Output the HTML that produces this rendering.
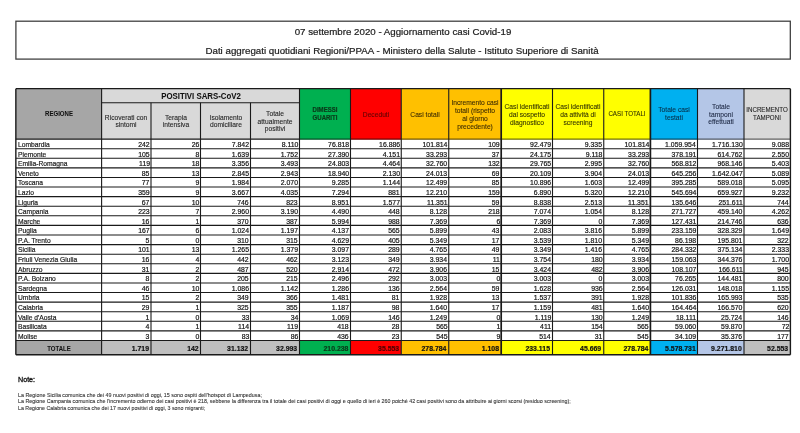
<!DOCTYPE html>
<html><head><meta charset="utf-8"><style>
html,body{margin:0;padding:0;background:#fff;width:800px;height:433px;overflow:hidden;position:relative}
body{font-family:"Liberation Sans",sans-serif;color:#000}
.t{position:absolute;white-space:nowrap;-webkit-text-stroke:0.2px currentColor}
#tx{position:absolute;left:0;top:0;width:800px;height:433px;will-change:transform}
svg{position:absolute;left:0;top:0}
#pg{position:absolute;left:0;top:0;width:800px;height:433px}
</style></head><body><div id="pg">
<svg width="800" height="433" viewBox="0 0 800 433"><rect x="15.85" y="88.70" width="85.75" height="50.40" fill="#a6a6a6"/><rect x="101.60" y="88.70" width="197.90" height="50.40" fill="#d9d9d9"/><rect x="299.50" y="88.70" width="51.00" height="50.40" fill="#00b050"/><rect x="350.50" y="88.70" width="50.75" height="50.40" fill="#ff0000"/><rect x="401.25" y="88.70" width="47.50" height="50.40" fill="#ffc000"/><rect x="448.75" y="88.70" width="52.45" height="50.40" fill="#ffc000"/><rect x="501.20" y="88.70" width="51.30" height="50.40" fill="#ffff00"/><rect x="552.50" y="88.70" width="51.25" height="50.40" fill="#ffff00"/><rect x="603.75" y="88.70" width="46.65" height="50.40" fill="#ffff00"/><rect x="650.40" y="88.70" width="47.10" height="50.40" fill="#00b0f0"/><rect x="697.50" y="88.70" width="46.50" height="50.40" fill="#b4c6e7"/><rect x="744.00" y="88.70" width="46.40" height="50.40" fill="#d9d9d9"/><rect x="15.85" y="340.50" width="85.75" height="14.20" fill="#a6a6a6"/><rect x="101.60" y="340.50" width="49.40" height="14.20" fill="#bfbfbf"/><rect x="151.00" y="340.50" width="49.50" height="14.20" fill="#bfbfbf"/><rect x="200.50" y="340.50" width="50.00" height="14.20" fill="#bfbfbf"/><rect x="250.50" y="340.50" width="49.00" height="14.20" fill="#bfbfbf"/><rect x="299.50" y="340.50" width="51.00" height="14.20" fill="#00b050"/><rect x="350.50" y="340.50" width="50.75" height="14.20" fill="#ff0000"/><rect x="401.25" y="340.50" width="47.50" height="14.20" fill="#ffc000"/><rect x="448.75" y="340.50" width="52.45" height="14.20" fill="#ffc000"/><rect x="501.20" y="340.50" width="51.30" height="14.20" fill="#ffff00"/><rect x="552.50" y="340.50" width="51.25" height="14.20" fill="#ffff00"/><rect x="603.75" y="340.50" width="46.65" height="14.20" fill="#ffff00"/><rect x="650.40" y="340.50" width="47.10" height="14.20" fill="#00b0f0"/><rect x="697.50" y="340.50" width="46.50" height="14.20" fill="#b4c6e7"/><rect x="744.00" y="340.50" width="46.40" height="14.20" fill="#bfbfbf"/><rect x="15.9" y="21.2" width="774.4" height="37.9" fill="none" stroke="#3a3a3a" stroke-width="1.25"/><line x1="15.85" y1="88.70" x2="790.40" y2="88.70" stroke="#1a1a1a" stroke-width="1.3"/><line x1="101.60" y1="102.70" x2="299.50" y2="102.70" stroke="#1a1a1a" stroke-width="1.1"/><line x1="15.85" y1="139.10" x2="299.50" y2="139.10" stroke="#1a1a1a" stroke-width="1.1"/><line x1="299.50" y1="139.10" x2="350.50" y2="139.10" stroke="#004f24" stroke-width="1.3"/><line x1="350.50" y1="139.10" x2="401.25" y2="139.10" stroke="#720000" stroke-width="1.3"/><line x1="401.25" y1="139.10" x2="448.75" y2="139.10" stroke="#725600" stroke-width="1.3"/><line x1="448.75" y1="139.10" x2="501.20" y2="139.10" stroke="#725600" stroke-width="1.3"/><line x1="501.20" y1="139.10" x2="552.50" y2="139.10" stroke="#727200" stroke-width="1.3"/><line x1="552.50" y1="139.10" x2="603.75" y2="139.10" stroke="#727200" stroke-width="1.3"/><line x1="603.75" y1="139.10" x2="650.40" y2="139.10" stroke="#727200" stroke-width="1.3"/><line x1="650.40" y1="139.10" x2="697.50" y2="139.10" stroke="#004f6c" stroke-width="1.3"/><line x1="697.50" y1="139.10" x2="744.00" y2="139.10" stroke="#515967" stroke-width="1.3"/><line x1="744.00" y1="139.10" x2="790.40" y2="139.10" stroke="#616161" stroke-width="1.3"/><line x1="15.85" y1="148.69" x2="790.40" y2="148.69" stroke="#1a1a1a" stroke-width="1.1"/><line x1="15.85" y1="158.28" x2="790.40" y2="158.28" stroke="#1a1a1a" stroke-width="1.1"/><line x1="15.85" y1="167.87" x2="790.40" y2="167.87" stroke="#1a1a1a" stroke-width="1.1"/><line x1="15.85" y1="177.46" x2="790.40" y2="177.46" stroke="#1a1a1a" stroke-width="1.1"/><line x1="15.85" y1="187.05" x2="790.40" y2="187.05" stroke="#1a1a1a" stroke-width="1.1"/><line x1="15.85" y1="196.64" x2="790.40" y2="196.64" stroke="#1a1a1a" stroke-width="1.1"/><line x1="15.85" y1="206.23" x2="790.40" y2="206.23" stroke="#1a1a1a" stroke-width="1.1"/><line x1="15.85" y1="215.82" x2="790.40" y2="215.82" stroke="#1a1a1a" stroke-width="1.1"/><line x1="15.85" y1="225.41" x2="790.40" y2="225.41" stroke="#1a1a1a" stroke-width="1.1"/><line x1="15.85" y1="235.00" x2="790.40" y2="235.00" stroke="#1a1a1a" stroke-width="1.1"/><line x1="15.85" y1="244.60" x2="790.40" y2="244.60" stroke="#1a1a1a" stroke-width="1.1"/><line x1="15.85" y1="254.19" x2="790.40" y2="254.19" stroke="#1a1a1a" stroke-width="1.1"/><line x1="15.85" y1="263.78" x2="790.40" y2="263.78" stroke="#1a1a1a" stroke-width="1.1"/><line x1="15.85" y1="273.37" x2="790.40" y2="273.37" stroke="#1a1a1a" stroke-width="1.1"/><line x1="15.85" y1="282.96" x2="790.40" y2="282.96" stroke="#1a1a1a" stroke-width="1.1"/><line x1="15.85" y1="292.55" x2="790.40" y2="292.55" stroke="#1a1a1a" stroke-width="1.1"/><line x1="15.85" y1="302.14" x2="790.40" y2="302.14" stroke="#1a1a1a" stroke-width="1.1"/><line x1="15.85" y1="311.73" x2="790.40" y2="311.73" stroke="#1a1a1a" stroke-width="1.1"/><line x1="15.85" y1="321.32" x2="790.40" y2="321.32" stroke="#1a1a1a" stroke-width="1.1"/><line x1="15.85" y1="330.91" x2="790.40" y2="330.91" stroke="#1a1a1a" stroke-width="1.1"/><line x1="15.85" y1="340.50" x2="790.40" y2="340.50" stroke="#1a1a1a" stroke-width="1.1"/><line x1="15.85" y1="354.70" x2="790.40" y2="354.70" stroke="#1a1a1a" stroke-width="1.4"/><line x1="15.85" y1="88.70" x2="15.85" y2="354.70" stroke="#1a1a1a" stroke-width="1.4"/><line x1="101.60" y1="88.70" x2="101.60" y2="354.70" stroke="#1a1a1a" stroke-width="1.1"/><line x1="151.00" y1="102.70" x2="151.00" y2="354.70" stroke="#1a1a1a" stroke-width="1.1"/><line x1="200.50" y1="102.70" x2="200.50" y2="354.70" stroke="#1a1a1a" stroke-width="1.1"/><line x1="250.50" y1="102.70" x2="250.50" y2="354.70" stroke="#1a1a1a" stroke-width="1.1"/><line x1="299.50" y1="88.70" x2="299.50" y2="354.70" stroke="#1a1a1a" stroke-width="1.1"/><line x1="350.50" y1="88.70" x2="350.50" y2="354.70" stroke="#1a1a1a" stroke-width="1.1"/><line x1="401.25" y1="88.70" x2="401.25" y2="354.70" stroke="#1a1a1a" stroke-width="1.1"/><line x1="448.75" y1="88.70" x2="448.75" y2="354.70" stroke="#1a1a1a" stroke-width="1.1"/><line x1="501.20" y1="88.70" x2="501.20" y2="354.70" stroke="#1a1a1a" stroke-width="1.7"/><line x1="552.50" y1="88.70" x2="552.50" y2="354.70" stroke="#1a1a1a" stroke-width="1.1"/><line x1="603.75" y1="88.70" x2="603.75" y2="354.70" stroke="#1a1a1a" stroke-width="1.1"/><line x1="650.40" y1="88.70" x2="650.40" y2="354.70" stroke="#1a1a1a" stroke-width="1.7"/><line x1="697.50" y1="88.70" x2="697.50" y2="354.70" stroke="#1a1a1a" stroke-width="1.1"/><line x1="744.00" y1="88.70" x2="744.00" y2="354.70" stroke="#1a1a1a" stroke-width="1.1"/><line x1="790.40" y1="88.70" x2="790.40" y2="354.70" stroke="#1a1a1a" stroke-width="1.4"/></svg>
<div id="tx"><div class="t" style="top:26.44px;font-size:9.9px;line-height:11.058px;color:#222;left:-97.50px;width:1000px;text-align:center;transform:scaleX(0.984);transform-origin:center 50%;-webkit-text-stroke:0.22px currentColor;">07 settembre 2020 - Aggiornamento casi Covid-19</div><div class="t" style="top:45.04px;font-size:9.9px;line-height:11.058px;color:#222;left:-98.00px;width:1000px;text-align:center;transform:scaleX(0.987);transform-origin:center 50%;-webkit-text-stroke:0.22px currentColor;">Dati aggregati quotidiani Regioni/PPAA - Ministero della Salute - Istituto Superiore di Sanità</div><div class="t" style="top:110.12px;font-size:6.655px;line-height:7.434px;font-weight:bold;color:#111;left:-441.27px;width:1000px;text-align:center;transform:scaleX(0.909);transform-origin:center 50%;-webkit-text-stroke:0.05px currentColor;">REGIONE</div><div class="t" style="top:90.77px;font-size:9.42px;line-height:10.522px;font-weight:bold;color:#111;left:-299.45px;width:1000px;text-align:center;transform:scaleX(0.833);transform-origin:center 50%;-webkit-text-stroke:0.05px currentColor;">POSITIVI SARS-CoV2</div><div class="t" style="top:113.59px;font-size:7.906px;line-height:8.831px;color:#222;left:-373.70px;width:1000px;text-align:center;transform:scaleX(0.847);transform-origin:center 50%;-webkit-text-stroke:0.1px currentColor;">Ricoverati con</div><div class="t" style="top:121.34px;font-size:7.906px;line-height:8.831px;color:#222;left:-373.70px;width:1000px;text-align:center;transform:scaleX(0.847);transform-origin:center 50%;-webkit-text-stroke:0.1px currentColor;">sintomi</div><div class="t" style="top:113.59px;font-size:7.906px;line-height:8.831px;color:#222;left:-324.25px;width:1000px;text-align:center;transform:scaleX(0.847);transform-origin:center 50%;-webkit-text-stroke:0.1px currentColor;">Terapia</div><div class="t" style="top:121.34px;font-size:7.906px;line-height:8.831px;color:#222;left:-324.25px;width:1000px;text-align:center;transform:scaleX(0.847);transform-origin:center 50%;-webkit-text-stroke:0.1px currentColor;">intensiva</div><div class="t" style="top:113.59px;font-size:7.906px;line-height:8.831px;color:#222;left:-274.50px;width:1000px;text-align:center;transform:scaleX(0.847);transform-origin:center 50%;-webkit-text-stroke:0.1px currentColor;">Isolamento</div><div class="t" style="top:121.34px;font-size:7.906px;line-height:8.831px;color:#222;left:-274.50px;width:1000px;text-align:center;transform:scaleX(0.847);transform-origin:center 50%;-webkit-text-stroke:0.1px currentColor;">domiciliare</div><div class="t" style="top:109.66px;font-size:7.906px;line-height:8.831px;color:#222;left:-225.00px;width:1000px;text-align:center;transform:scaleX(0.847);transform-origin:center 50%;-webkit-text-stroke:0.1px currentColor;">Totale</div><div class="t" style="top:117.56px;font-size:7.906px;line-height:8.831px;color:#222;left:-225.00px;width:1000px;text-align:center;transform:scaleX(0.847);transform-origin:center 50%;-webkit-text-stroke:0.1px currentColor;">attualmente</div><div class="t" style="top:125.46px;font-size:7.906px;line-height:8.831px;color:#222;left:-225.00px;width:1000px;text-align:center;transform:scaleX(0.847);transform-origin:center 50%;-webkit-text-stroke:0.1px currentColor;">positivi</div><div class="t" style="top:106.47px;font-size:6.655px;line-height:7.434px;font-weight:bold;color:#0a3a1a;left:-175.00px;width:1000px;text-align:center;transform:scaleX(0.909);transform-origin:center 50%;-webkit-text-stroke:0.2px currentColor;">DIMESSI</div><div class="t" style="top:114.27px;font-size:6.655px;line-height:7.434px;font-weight:bold;color:#0a3a1a;left:-175.00px;width:1000px;text-align:center;transform:scaleX(0.909);transform-origin:center 50%;-webkit-text-stroke:0.2px currentColor;">GUARITI</div><div class="t" style="top:110.78px;font-size:7.6935px;line-height:8.594px;color:#660000;left:-124.12px;width:1000px;text-align:center;transform:scaleX(0.870);transform-origin:center 50%;-webkit-text-stroke:0.15px currentColor;">Deceduti</div><div class="t" style="top:110.56px;font-size:7.906px;line-height:8.831px;color:#3a2a00;left:-75.00px;width:1000px;text-align:center;transform:scaleX(0.847);transform-origin:center 50%;-webkit-text-stroke:0.1px currentColor;">Casi totali</div><div class="t" style="top:99.26px;font-size:7.906px;line-height:8.831px;color:#3a2a00;left:-25.02px;width:1000px;text-align:center;transform:scaleX(0.847);transform-origin:center 50%;-webkit-text-stroke:0.1px currentColor;">Incremento casi</div><div class="t" style="top:107.06px;font-size:7.906px;line-height:8.831px;color:#3a2a00;left:-25.02px;width:1000px;text-align:center;transform:scaleX(0.847);transform-origin:center 50%;-webkit-text-stroke:0.1px currentColor;">totali (rispetto</div><div class="t" style="top:114.86px;font-size:7.906px;line-height:8.831px;color:#3a2a00;left:-25.02px;width:1000px;text-align:center;transform:scaleX(0.847);transform-origin:center 50%;-webkit-text-stroke:0.1px currentColor;">al giorno</div><div class="t" style="top:122.66px;font-size:7.906px;line-height:8.831px;color:#3a2a00;left:-25.02px;width:1000px;text-align:center;transform:scaleX(0.847);transform-origin:center 50%;-webkit-text-stroke:0.1px currentColor;">precedente)</div><div class="t" style="top:103.16px;font-size:7.906px;line-height:8.831px;color:#333300;left:26.85px;width:1000px;text-align:center;transform:scaleX(0.847);transform-origin:center 50%;-webkit-text-stroke:0.1px currentColor;">Casi identificati</div><div class="t" style="top:110.86px;font-size:7.906px;line-height:8.831px;color:#333300;left:26.85px;width:1000px;text-align:center;transform:scaleX(0.847);transform-origin:center 50%;-webkit-text-stroke:0.1px currentColor;">dal sospetto</div><div class="t" style="top:118.56px;font-size:7.906px;line-height:8.831px;color:#333300;left:26.85px;width:1000px;text-align:center;transform:scaleX(0.847);transform-origin:center 50%;-webkit-text-stroke:0.1px currentColor;">diagnostico</div><div class="t" style="top:103.16px;font-size:7.906px;line-height:8.831px;color:#333300;left:78.12px;width:1000px;text-align:center;transform:scaleX(0.847);transform-origin:center 50%;-webkit-text-stroke:0.1px currentColor;">Casi identificati</div><div class="t" style="top:110.86px;font-size:7.906px;line-height:8.831px;color:#333300;left:78.12px;width:1000px;text-align:center;transform:scaleX(0.847);transform-origin:center 50%;-webkit-text-stroke:0.1px currentColor;">da attività di</div><div class="t" style="top:118.56px;font-size:7.906px;line-height:8.831px;color:#333300;left:78.12px;width:1000px;text-align:center;transform:scaleX(0.847);transform-origin:center 50%;-webkit-text-stroke:0.1px currentColor;">screening</div><div class="t" style="top:110.02px;font-size:6.944000000000001px;line-height:7.756px;color:#333300;left:127.08px;width:1000px;text-align:center;transform:scaleX(0.893);transform-origin:center 50%;-webkit-text-stroke:0.1px currentColor;">CASI TOTALI</div><div class="t" style="top:106.46px;font-size:7.906px;line-height:8.831px;color:#06304a;left:173.95px;width:1000px;text-align:center;transform:scaleX(0.847);transform-origin:center 50%;-webkit-text-stroke:0.1px currentColor;">Totale casi</div><div class="t" style="top:114.26px;font-size:7.906px;line-height:8.831px;color:#06304a;left:173.95px;width:1000px;text-align:center;transform:scaleX(0.847);transform-origin:center 50%;-webkit-text-stroke:0.1px currentColor;">testati</div><div class="t" style="top:103.06px;font-size:7.906px;line-height:8.831px;color:#1a2540;left:220.75px;width:1000px;text-align:center;transform:scaleX(0.847);transform-origin:center 50%;-webkit-text-stroke:0.1px currentColor;">Totale</div><div class="t" style="top:110.56px;font-size:7.906px;line-height:8.831px;color:#1a2540;left:220.75px;width:1000px;text-align:center;transform:scaleX(0.847);transform-origin:center 50%;-webkit-text-stroke:0.1px currentColor;">tamponi</div><div class="t" style="top:118.06px;font-size:7.906px;line-height:8.831px;color:#1a2540;left:220.75px;width:1000px;text-align:center;transform:scaleX(0.847);transform-origin:center 50%;-webkit-text-stroke:0.1px currentColor;">effettuati</div><div class="t" style="top:106.12px;font-size:6.944000000000001px;line-height:7.756px;color:#222;left:267.20px;width:1000px;text-align:center;transform:scaleX(0.893);transform-origin:center 50%;-webkit-text-stroke:0.1px currentColor;">INCREMENTO</div><div class="t" style="top:113.92px;font-size:6.944000000000001px;line-height:7.756px;color:#222;left:267.20px;width:1000px;text-align:center;transform:scaleX(0.893);transform-origin:center 50%;-webkit-text-stroke:0.1px currentColor;">TAMPONI</div><div class="t" style="top:140.84px;font-size:7.771999999999999px;line-height:8.681px;color:#1a1a1a;left:18.15px;transform:scaleX(0.862);transform-origin:left 50%;">Lombardia</div><div class="t" style="top:141.00px;font-size:7.590000000000001px;line-height:8.478px;color:#111;right:650.40px;transform:scaleX(0.909);transform-origin:right 50%;">242</div><div class="t" style="top:141.00px;font-size:7.590000000000001px;line-height:8.478px;color:#111;right:600.90px;transform:scaleX(0.909);transform-origin:right 50%;">26</div><div class="t" style="top:141.00px;font-size:7.590000000000001px;line-height:8.478px;color:#111;right:550.90px;transform:scaleX(0.909);transform-origin:right 50%;">7.842</div><div class="t" style="top:141.00px;font-size:7.590000000000001px;line-height:8.478px;color:#111;right:501.90px;transform:scaleX(0.909);transform-origin:right 50%;">8.110</div><div class="t" style="top:141.00px;font-size:7.590000000000001px;line-height:8.478px;color:#111;right:450.90px;transform:scaleX(0.909);transform-origin:right 50%;">76.818</div><div class="t" style="top:141.00px;font-size:7.590000000000001px;line-height:8.478px;color:#111;right:400.15px;transform:scaleX(0.909);transform-origin:right 50%;">16.886</div><div class="t" style="top:141.00px;font-size:7.590000000000001px;line-height:8.478px;color:#111;right:352.65px;transform:scaleX(0.909);transform-origin:right 50%;">101.814</div><div class="t" style="top:141.00px;font-size:7.590000000000001px;line-height:8.478px;color:#111;right:300.20px;transform:scaleX(0.909);transform-origin:right 50%;">109</div><div class="t" style="top:141.00px;font-size:7.590000000000001px;line-height:8.478px;color:#111;right:248.90px;transform:scaleX(0.909);transform-origin:right 50%;">92.479</div><div class="t" style="top:141.00px;font-size:7.590000000000001px;line-height:8.478px;color:#111;right:197.65px;transform:scaleX(0.909);transform-origin:right 50%;">9.335</div><div class="t" style="top:141.00px;font-size:7.590000000000001px;line-height:8.478px;color:#111;right:151.00px;transform:scaleX(0.909);transform-origin:right 50%;">101.814</div><div class="t" style="top:141.00px;font-size:7.590000000000001px;line-height:8.478px;color:#111;right:103.90px;transform:scaleX(0.909);transform-origin:right 50%;">1.059.954</div><div class="t" style="top:141.00px;font-size:7.590000000000001px;line-height:8.478px;color:#111;right:57.40px;transform:scaleX(0.909);transform-origin:right 50%;">1.716.130</div><div class="t" style="top:141.00px;font-size:7.590000000000001px;line-height:8.478px;color:#111;right:11.00px;transform:scaleX(0.909);transform-origin:right 50%;">9.088</div><div class="t" style="top:150.84px;font-size:7.771999999999999px;line-height:8.681px;color:#1a1a1a;left:18.15px;transform:scaleX(0.862);transform-origin:left 50%;">Piemonte</div><div class="t" style="top:151.00px;font-size:7.590000000000001px;line-height:8.478px;color:#111;right:650.40px;transform:scaleX(0.909);transform-origin:right 50%;">105</div><div class="t" style="top:151.00px;font-size:7.590000000000001px;line-height:8.478px;color:#111;right:600.90px;transform:scaleX(0.909);transform-origin:right 50%;">8</div><div class="t" style="top:151.00px;font-size:7.590000000000001px;line-height:8.478px;color:#111;right:550.90px;transform:scaleX(0.909);transform-origin:right 50%;">1.639</div><div class="t" style="top:151.00px;font-size:7.590000000000001px;line-height:8.478px;color:#111;right:501.90px;transform:scaleX(0.909);transform-origin:right 50%;">1.752</div><div class="t" style="top:151.00px;font-size:7.590000000000001px;line-height:8.478px;color:#111;right:450.90px;transform:scaleX(0.909);transform-origin:right 50%;">27.390</div><div class="t" style="top:151.00px;font-size:7.590000000000001px;line-height:8.478px;color:#111;right:400.15px;transform:scaleX(0.909);transform-origin:right 50%;">4.151</div><div class="t" style="top:151.00px;font-size:7.590000000000001px;line-height:8.478px;color:#111;right:352.65px;transform:scaleX(0.909);transform-origin:right 50%;">33.293</div><div class="t" style="top:151.00px;font-size:7.590000000000001px;line-height:8.478px;color:#111;right:300.20px;transform:scaleX(0.909);transform-origin:right 50%;">37</div><div class="t" style="top:151.00px;font-size:7.590000000000001px;line-height:8.478px;color:#111;right:248.90px;transform:scaleX(0.909);transform-origin:right 50%;">24.175</div><div class="t" style="top:151.00px;font-size:7.590000000000001px;line-height:8.478px;color:#111;right:197.65px;transform:scaleX(0.909);transform-origin:right 50%;">9.118</div><div class="t" style="top:151.00px;font-size:7.590000000000001px;line-height:8.478px;color:#111;right:151.00px;transform:scaleX(0.909);transform-origin:right 50%;">33.293</div><div class="t" style="top:151.00px;font-size:7.590000000000001px;line-height:8.478px;color:#111;right:103.90px;transform:scaleX(0.909);transform-origin:right 50%;">378.191</div><div class="t" style="top:151.00px;font-size:7.590000000000001px;line-height:8.478px;color:#111;right:57.40px;transform:scaleX(0.909);transform-origin:right 50%;">614.762</div><div class="t" style="top:151.00px;font-size:7.590000000000001px;line-height:8.478px;color:#111;right:11.00px;transform:scaleX(0.909);transform-origin:right 50%;">2.550</div><div class="t" style="top:159.84px;font-size:7.771999999999999px;line-height:8.681px;color:#1a1a1a;left:18.15px;transform:scaleX(0.862);transform-origin:left 50%;">Emilia-Romagna</div><div class="t" style="top:160.00px;font-size:7.590000000000001px;line-height:8.478px;color:#111;right:650.40px;transform:scaleX(0.909);transform-origin:right 50%;">119</div><div class="t" style="top:160.00px;font-size:7.590000000000001px;line-height:8.478px;color:#111;right:600.90px;transform:scaleX(0.909);transform-origin:right 50%;">18</div><div class="t" style="top:160.00px;font-size:7.590000000000001px;line-height:8.478px;color:#111;right:550.90px;transform:scaleX(0.909);transform-origin:right 50%;">3.356</div><div class="t" style="top:160.00px;font-size:7.590000000000001px;line-height:8.478px;color:#111;right:501.90px;transform:scaleX(0.909);transform-origin:right 50%;">3.493</div><div class="t" style="top:160.00px;font-size:7.590000000000001px;line-height:8.478px;color:#111;right:450.90px;transform:scaleX(0.909);transform-origin:right 50%;">24.803</div><div class="t" style="top:160.00px;font-size:7.590000000000001px;line-height:8.478px;color:#111;right:400.15px;transform:scaleX(0.909);transform-origin:right 50%;">4.464</div><div class="t" style="top:160.00px;font-size:7.590000000000001px;line-height:8.478px;color:#111;right:352.65px;transform:scaleX(0.909);transform-origin:right 50%;">32.760</div><div class="t" style="top:160.00px;font-size:7.590000000000001px;line-height:8.478px;color:#111;right:300.20px;transform:scaleX(0.909);transform-origin:right 50%;">132</div><div class="t" style="top:160.00px;font-size:7.590000000000001px;line-height:8.478px;color:#111;right:248.90px;transform:scaleX(0.909);transform-origin:right 50%;">29.765</div><div class="t" style="top:160.00px;font-size:7.590000000000001px;line-height:8.478px;color:#111;right:197.65px;transform:scaleX(0.909);transform-origin:right 50%;">2.995</div><div class="t" style="top:160.00px;font-size:7.590000000000001px;line-height:8.478px;color:#111;right:151.00px;transform:scaleX(0.909);transform-origin:right 50%;">32.760</div><div class="t" style="top:160.00px;font-size:7.590000000000001px;line-height:8.478px;color:#111;right:103.90px;transform:scaleX(0.909);transform-origin:right 50%;">568.812</div><div class="t" style="top:160.00px;font-size:7.590000000000001px;line-height:8.478px;color:#111;right:57.40px;transform:scaleX(0.909);transform-origin:right 50%;">968.146</div><div class="t" style="top:160.00px;font-size:7.590000000000001px;line-height:8.478px;color:#111;right:11.00px;transform:scaleX(0.909);transform-origin:right 50%;">5.403</div><div class="t" style="top:169.84px;font-size:7.771999999999999px;line-height:8.681px;color:#1a1a1a;left:18.15px;transform:scaleX(0.862);transform-origin:left 50%;">Veneto</div><div class="t" style="top:170.00px;font-size:7.590000000000001px;line-height:8.478px;color:#111;right:650.40px;transform:scaleX(0.909);transform-origin:right 50%;">85</div><div class="t" style="top:170.00px;font-size:7.590000000000001px;line-height:8.478px;color:#111;right:600.90px;transform:scaleX(0.909);transform-origin:right 50%;">13</div><div class="t" style="top:170.00px;font-size:7.590000000000001px;line-height:8.478px;color:#111;right:550.90px;transform:scaleX(0.909);transform-origin:right 50%;">2.845</div><div class="t" style="top:170.00px;font-size:7.590000000000001px;line-height:8.478px;color:#111;right:501.90px;transform:scaleX(0.909);transform-origin:right 50%;">2.943</div><div class="t" style="top:170.00px;font-size:7.590000000000001px;line-height:8.478px;color:#111;right:450.90px;transform:scaleX(0.909);transform-origin:right 50%;">18.940</div><div class="t" style="top:170.00px;font-size:7.590000000000001px;line-height:8.478px;color:#111;right:400.15px;transform:scaleX(0.909);transform-origin:right 50%;">2.130</div><div class="t" style="top:170.00px;font-size:7.590000000000001px;line-height:8.478px;color:#111;right:352.65px;transform:scaleX(0.909);transform-origin:right 50%;">24.013</div><div class="t" style="top:170.00px;font-size:7.590000000000001px;line-height:8.478px;color:#111;right:300.20px;transform:scaleX(0.909);transform-origin:right 50%;">69</div><div class="t" style="top:170.00px;font-size:7.590000000000001px;line-height:8.478px;color:#111;right:248.90px;transform:scaleX(0.909);transform-origin:right 50%;">20.109</div><div class="t" style="top:170.00px;font-size:7.590000000000001px;line-height:8.478px;color:#111;right:197.65px;transform:scaleX(0.909);transform-origin:right 50%;">3.904</div><div class="t" style="top:170.00px;font-size:7.590000000000001px;line-height:8.478px;color:#111;right:151.00px;transform:scaleX(0.909);transform-origin:right 50%;">24.013</div><div class="t" style="top:170.00px;font-size:7.590000000000001px;line-height:8.478px;color:#111;right:103.90px;transform:scaleX(0.909);transform-origin:right 50%;">645.256</div><div class="t" style="top:170.00px;font-size:7.590000000000001px;line-height:8.478px;color:#111;right:57.40px;transform:scaleX(0.909);transform-origin:right 50%;">1.642.047</div><div class="t" style="top:170.00px;font-size:7.590000000000001px;line-height:8.478px;color:#111;right:11.00px;transform:scaleX(0.909);transform-origin:right 50%;">5.089</div><div class="t" style="top:178.84px;font-size:7.771999999999999px;line-height:8.681px;color:#1a1a1a;left:18.15px;transform:scaleX(0.862);transform-origin:left 50%;">Toscana</div><div class="t" style="top:179.00px;font-size:7.590000000000001px;line-height:8.478px;color:#111;right:650.40px;transform:scaleX(0.909);transform-origin:right 50%;">77</div><div class="t" style="top:179.00px;font-size:7.590000000000001px;line-height:8.478px;color:#111;right:600.90px;transform:scaleX(0.909);transform-origin:right 50%;">9</div><div class="t" style="top:179.00px;font-size:7.590000000000001px;line-height:8.478px;color:#111;right:550.90px;transform:scaleX(0.909);transform-origin:right 50%;">1.984</div><div class="t" style="top:179.00px;font-size:7.590000000000001px;line-height:8.478px;color:#111;right:501.90px;transform:scaleX(0.909);transform-origin:right 50%;">2.070</div><div class="t" style="top:179.00px;font-size:7.590000000000001px;line-height:8.478px;color:#111;right:450.90px;transform:scaleX(0.909);transform-origin:right 50%;">9.285</div><div class="t" style="top:179.00px;font-size:7.590000000000001px;line-height:8.478px;color:#111;right:400.15px;transform:scaleX(0.909);transform-origin:right 50%;">1.144</div><div class="t" style="top:179.00px;font-size:7.590000000000001px;line-height:8.478px;color:#111;right:352.65px;transform:scaleX(0.909);transform-origin:right 50%;">12.499</div><div class="t" style="top:179.00px;font-size:7.590000000000001px;line-height:8.478px;color:#111;right:300.20px;transform:scaleX(0.909);transform-origin:right 50%;">85</div><div class="t" style="top:179.00px;font-size:7.590000000000001px;line-height:8.478px;color:#111;right:248.90px;transform:scaleX(0.909);transform-origin:right 50%;">10.896</div><div class="t" style="top:179.00px;font-size:7.590000000000001px;line-height:8.478px;color:#111;right:197.65px;transform:scaleX(0.909);transform-origin:right 50%;">1.603</div><div class="t" style="top:179.00px;font-size:7.590000000000001px;line-height:8.478px;color:#111;right:151.00px;transform:scaleX(0.909);transform-origin:right 50%;">12.499</div><div class="t" style="top:179.00px;font-size:7.590000000000001px;line-height:8.478px;color:#111;right:103.90px;transform:scaleX(0.909);transform-origin:right 50%;">395.285</div><div class="t" style="top:179.00px;font-size:7.590000000000001px;line-height:8.478px;color:#111;right:57.40px;transform:scaleX(0.909);transform-origin:right 50%;">589.018</div><div class="t" style="top:179.00px;font-size:7.590000000000001px;line-height:8.478px;color:#111;right:11.00px;transform:scaleX(0.909);transform-origin:right 50%;">5.095</div><div class="t" style="top:188.84px;font-size:7.771999999999999px;line-height:8.681px;color:#1a1a1a;left:18.15px;transform:scaleX(0.862);transform-origin:left 50%;">Lazio</div><div class="t" style="top:189.00px;font-size:7.590000000000001px;line-height:8.478px;color:#111;right:650.40px;transform:scaleX(0.909);transform-origin:right 50%;">359</div><div class="t" style="top:189.00px;font-size:7.590000000000001px;line-height:8.478px;color:#111;right:600.90px;transform:scaleX(0.909);transform-origin:right 50%;">9</div><div class="t" style="top:189.00px;font-size:7.590000000000001px;line-height:8.478px;color:#111;right:550.90px;transform:scaleX(0.909);transform-origin:right 50%;">3.667</div><div class="t" style="top:189.00px;font-size:7.590000000000001px;line-height:8.478px;color:#111;right:501.90px;transform:scaleX(0.909);transform-origin:right 50%;">4.035</div><div class="t" style="top:189.00px;font-size:7.590000000000001px;line-height:8.478px;color:#111;right:450.90px;transform:scaleX(0.909);transform-origin:right 50%;">7.294</div><div class="t" style="top:189.00px;font-size:7.590000000000001px;line-height:8.478px;color:#111;right:400.15px;transform:scaleX(0.909);transform-origin:right 50%;">881</div><div class="t" style="top:189.00px;font-size:7.590000000000001px;line-height:8.478px;color:#111;right:352.65px;transform:scaleX(0.909);transform-origin:right 50%;">12.210</div><div class="t" style="top:189.00px;font-size:7.590000000000001px;line-height:8.478px;color:#111;right:300.20px;transform:scaleX(0.909);transform-origin:right 50%;">159</div><div class="t" style="top:189.00px;font-size:7.590000000000001px;line-height:8.478px;color:#111;right:248.90px;transform:scaleX(0.909);transform-origin:right 50%;">6.890</div><div class="t" style="top:189.00px;font-size:7.590000000000001px;line-height:8.478px;color:#111;right:197.65px;transform:scaleX(0.909);transform-origin:right 50%;">5.320</div><div class="t" style="top:189.00px;font-size:7.590000000000001px;line-height:8.478px;color:#111;right:151.00px;transform:scaleX(0.909);transform-origin:right 50%;">12.210</div><div class="t" style="top:189.00px;font-size:7.590000000000001px;line-height:8.478px;color:#111;right:103.90px;transform:scaleX(0.909);transform-origin:right 50%;">545.694</div><div class="t" style="top:189.00px;font-size:7.590000000000001px;line-height:8.478px;color:#111;right:57.40px;transform:scaleX(0.909);transform-origin:right 50%;">659.927</div><div class="t" style="top:189.00px;font-size:7.590000000000001px;line-height:8.478px;color:#111;right:11.00px;transform:scaleX(0.909);transform-origin:right 50%;">9.232</div><div class="t" style="top:198.84px;font-size:7.771999999999999px;line-height:8.681px;color:#1a1a1a;left:18.15px;transform:scaleX(0.862);transform-origin:left 50%;">Liguria</div><div class="t" style="top:199.00px;font-size:7.590000000000001px;line-height:8.478px;color:#111;right:650.40px;transform:scaleX(0.909);transform-origin:right 50%;">67</div><div class="t" style="top:199.00px;font-size:7.590000000000001px;line-height:8.478px;color:#111;right:600.90px;transform:scaleX(0.909);transform-origin:right 50%;">10</div><div class="t" style="top:199.00px;font-size:7.590000000000001px;line-height:8.478px;color:#111;right:550.90px;transform:scaleX(0.909);transform-origin:right 50%;">746</div><div class="t" style="top:199.00px;font-size:7.590000000000001px;line-height:8.478px;color:#111;right:501.90px;transform:scaleX(0.909);transform-origin:right 50%;">823</div><div class="t" style="top:199.00px;font-size:7.590000000000001px;line-height:8.478px;color:#111;right:450.90px;transform:scaleX(0.909);transform-origin:right 50%;">8.951</div><div class="t" style="top:199.00px;font-size:7.590000000000001px;line-height:8.478px;color:#111;right:400.15px;transform:scaleX(0.909);transform-origin:right 50%;">1.577</div><div class="t" style="top:199.00px;font-size:7.590000000000001px;line-height:8.478px;color:#111;right:352.65px;transform:scaleX(0.909);transform-origin:right 50%;">11.351</div><div class="t" style="top:199.00px;font-size:7.590000000000001px;line-height:8.478px;color:#111;right:300.20px;transform:scaleX(0.909);transform-origin:right 50%;">59</div><div class="t" style="top:199.00px;font-size:7.590000000000001px;line-height:8.478px;color:#111;right:248.90px;transform:scaleX(0.909);transform-origin:right 50%;">8.838</div><div class="t" style="top:199.00px;font-size:7.590000000000001px;line-height:8.478px;color:#111;right:197.65px;transform:scaleX(0.909);transform-origin:right 50%;">2.513</div><div class="t" style="top:199.00px;font-size:7.590000000000001px;line-height:8.478px;color:#111;right:151.00px;transform:scaleX(0.909);transform-origin:right 50%;">11.351</div><div class="t" style="top:199.00px;font-size:7.590000000000001px;line-height:8.478px;color:#111;right:103.90px;transform:scaleX(0.909);transform-origin:right 50%;">135.646</div><div class="t" style="top:199.00px;font-size:7.590000000000001px;line-height:8.478px;color:#111;right:57.40px;transform:scaleX(0.909);transform-origin:right 50%;">251.611</div><div class="t" style="top:199.00px;font-size:7.590000000000001px;line-height:8.478px;color:#111;right:11.00px;transform:scaleX(0.909);transform-origin:right 50%;">744</div><div class="t" style="top:207.84px;font-size:7.771999999999999px;line-height:8.681px;color:#1a1a1a;left:18.15px;transform:scaleX(0.862);transform-origin:left 50%;">Campania</div><div class="t" style="top:208.00px;font-size:7.590000000000001px;line-height:8.478px;color:#111;right:650.40px;transform:scaleX(0.909);transform-origin:right 50%;">223</div><div class="t" style="top:208.00px;font-size:7.590000000000001px;line-height:8.478px;color:#111;right:600.90px;transform:scaleX(0.909);transform-origin:right 50%;">7</div><div class="t" style="top:208.00px;font-size:7.590000000000001px;line-height:8.478px;color:#111;right:550.90px;transform:scaleX(0.909);transform-origin:right 50%;">2.960</div><div class="t" style="top:208.00px;font-size:7.590000000000001px;line-height:8.478px;color:#111;right:501.90px;transform:scaleX(0.909);transform-origin:right 50%;">3.190</div><div class="t" style="top:208.00px;font-size:7.590000000000001px;line-height:8.478px;color:#111;right:450.90px;transform:scaleX(0.909);transform-origin:right 50%;">4.490</div><div class="t" style="top:208.00px;font-size:7.590000000000001px;line-height:8.478px;color:#111;right:400.15px;transform:scaleX(0.909);transform-origin:right 50%;">448</div><div class="t" style="top:208.00px;font-size:7.590000000000001px;line-height:8.478px;color:#111;right:352.65px;transform:scaleX(0.909);transform-origin:right 50%;">8.128</div><div class="t" style="top:208.00px;font-size:7.590000000000001px;line-height:8.478px;color:#111;right:300.20px;transform:scaleX(0.909);transform-origin:right 50%;">218</div><div class="t" style="top:208.00px;font-size:7.590000000000001px;line-height:8.478px;color:#111;right:248.90px;transform:scaleX(0.909);transform-origin:right 50%;">7.074</div><div class="t" style="top:208.00px;font-size:7.590000000000001px;line-height:8.478px;color:#111;right:197.65px;transform:scaleX(0.909);transform-origin:right 50%;">1.054</div><div class="t" style="top:208.00px;font-size:7.590000000000001px;line-height:8.478px;color:#111;right:151.00px;transform:scaleX(0.909);transform-origin:right 50%;">8.128</div><div class="t" style="top:208.00px;font-size:7.590000000000001px;line-height:8.478px;color:#111;right:103.90px;transform:scaleX(0.909);transform-origin:right 50%;">271.727</div><div class="t" style="top:208.00px;font-size:7.590000000000001px;line-height:8.478px;color:#111;right:57.40px;transform:scaleX(0.909);transform-origin:right 50%;">459.140</div><div class="t" style="top:208.00px;font-size:7.590000000000001px;line-height:8.478px;color:#111;right:11.00px;transform:scaleX(0.909);transform-origin:right 50%;">4.262</div><div class="t" style="top:217.84px;font-size:7.771999999999999px;line-height:8.681px;color:#1a1a1a;left:18.15px;transform:scaleX(0.862);transform-origin:left 50%;">Marche</div><div class="t" style="top:218.00px;font-size:7.590000000000001px;line-height:8.478px;color:#111;right:650.40px;transform:scaleX(0.909);transform-origin:right 50%;">16</div><div class="t" style="top:218.00px;font-size:7.590000000000001px;line-height:8.478px;color:#111;right:600.90px;transform:scaleX(0.909);transform-origin:right 50%;">1</div><div class="t" style="top:218.00px;font-size:7.590000000000001px;line-height:8.478px;color:#111;right:550.90px;transform:scaleX(0.909);transform-origin:right 50%;">370</div><div class="t" style="top:218.00px;font-size:7.590000000000001px;line-height:8.478px;color:#111;right:501.90px;transform:scaleX(0.909);transform-origin:right 50%;">387</div><div class="t" style="top:218.00px;font-size:7.590000000000001px;line-height:8.478px;color:#111;right:450.90px;transform:scaleX(0.909);transform-origin:right 50%;">5.994</div><div class="t" style="top:218.00px;font-size:7.590000000000001px;line-height:8.478px;color:#111;right:400.15px;transform:scaleX(0.909);transform-origin:right 50%;">988</div><div class="t" style="top:218.00px;font-size:7.590000000000001px;line-height:8.478px;color:#111;right:352.65px;transform:scaleX(0.909);transform-origin:right 50%;">7.369</div><div class="t" style="top:218.00px;font-size:7.590000000000001px;line-height:8.478px;color:#111;right:300.20px;transform:scaleX(0.909);transform-origin:right 50%;">6</div><div class="t" style="top:218.00px;font-size:7.590000000000001px;line-height:8.478px;color:#111;right:248.90px;transform:scaleX(0.909);transform-origin:right 50%;">7.369</div><div class="t" style="top:218.00px;font-size:7.590000000000001px;line-height:8.478px;color:#111;right:197.65px;transform:scaleX(0.909);transform-origin:right 50%;">0</div><div class="t" style="top:218.00px;font-size:7.590000000000001px;line-height:8.478px;color:#111;right:151.00px;transform:scaleX(0.909);transform-origin:right 50%;">7.369</div><div class="t" style="top:218.00px;font-size:7.590000000000001px;line-height:8.478px;color:#111;right:103.90px;transform:scaleX(0.909);transform-origin:right 50%;">127.431</div><div class="t" style="top:218.00px;font-size:7.590000000000001px;line-height:8.478px;color:#111;right:57.40px;transform:scaleX(0.909);transform-origin:right 50%;">214.746</div><div class="t" style="top:218.00px;font-size:7.590000000000001px;line-height:8.478px;color:#111;right:11.00px;transform:scaleX(0.909);transform-origin:right 50%;">636</div><div class="t" style="top:226.84px;font-size:7.771999999999999px;line-height:8.681px;color:#1a1a1a;left:18.15px;transform:scaleX(0.862);transform-origin:left 50%;">Puglia</div><div class="t" style="top:227.00px;font-size:7.590000000000001px;line-height:8.478px;color:#111;right:650.40px;transform:scaleX(0.909);transform-origin:right 50%;">167</div><div class="t" style="top:227.00px;font-size:7.590000000000001px;line-height:8.478px;color:#111;right:600.90px;transform:scaleX(0.909);transform-origin:right 50%;">6</div><div class="t" style="top:227.00px;font-size:7.590000000000001px;line-height:8.478px;color:#111;right:550.90px;transform:scaleX(0.909);transform-origin:right 50%;">1.024</div><div class="t" style="top:227.00px;font-size:7.590000000000001px;line-height:8.478px;color:#111;right:501.90px;transform:scaleX(0.909);transform-origin:right 50%;">1.197</div><div class="t" style="top:227.00px;font-size:7.590000000000001px;line-height:8.478px;color:#111;right:450.90px;transform:scaleX(0.909);transform-origin:right 50%;">4.137</div><div class="t" style="top:227.00px;font-size:7.590000000000001px;line-height:8.478px;color:#111;right:400.15px;transform:scaleX(0.909);transform-origin:right 50%;">565</div><div class="t" style="top:227.00px;font-size:7.590000000000001px;line-height:8.478px;color:#111;right:352.65px;transform:scaleX(0.909);transform-origin:right 50%;">5.899</div><div class="t" style="top:227.00px;font-size:7.590000000000001px;line-height:8.478px;color:#111;right:300.20px;transform:scaleX(0.909);transform-origin:right 50%;">43</div><div class="t" style="top:227.00px;font-size:7.590000000000001px;line-height:8.478px;color:#111;right:248.90px;transform:scaleX(0.909);transform-origin:right 50%;">2.083</div><div class="t" style="top:227.00px;font-size:7.590000000000001px;line-height:8.478px;color:#111;right:197.65px;transform:scaleX(0.909);transform-origin:right 50%;">3.816</div><div class="t" style="top:227.00px;font-size:7.590000000000001px;line-height:8.478px;color:#111;right:151.00px;transform:scaleX(0.909);transform-origin:right 50%;">5.899</div><div class="t" style="top:227.00px;font-size:7.590000000000001px;line-height:8.478px;color:#111;right:103.90px;transform:scaleX(0.909);transform-origin:right 50%;">233.159</div><div class="t" style="top:227.00px;font-size:7.590000000000001px;line-height:8.478px;color:#111;right:57.40px;transform:scaleX(0.909);transform-origin:right 50%;">328.329</div><div class="t" style="top:227.00px;font-size:7.590000000000001px;line-height:8.478px;color:#111;right:11.00px;transform:scaleX(0.909);transform-origin:right 50%;">1.649</div><div class="t" style="top:236.84px;font-size:7.771999999999999px;line-height:8.681px;color:#1a1a1a;left:18.15px;transform:scaleX(0.862);transform-origin:left 50%;">P.A. Trento</div><div class="t" style="top:237.00px;font-size:7.590000000000001px;line-height:8.478px;color:#111;right:650.40px;transform:scaleX(0.909);transform-origin:right 50%;">5</div><div class="t" style="top:237.00px;font-size:7.590000000000001px;line-height:8.478px;color:#111;right:600.90px;transform:scaleX(0.909);transform-origin:right 50%;">0</div><div class="t" style="top:237.00px;font-size:7.590000000000001px;line-height:8.478px;color:#111;right:550.90px;transform:scaleX(0.909);transform-origin:right 50%;">310</div><div class="t" style="top:237.00px;font-size:7.590000000000001px;line-height:8.478px;color:#111;right:501.90px;transform:scaleX(0.909);transform-origin:right 50%;">315</div><div class="t" style="top:237.00px;font-size:7.590000000000001px;line-height:8.478px;color:#111;right:450.90px;transform:scaleX(0.909);transform-origin:right 50%;">4.629</div><div class="t" style="top:237.00px;font-size:7.590000000000001px;line-height:8.478px;color:#111;right:400.15px;transform:scaleX(0.909);transform-origin:right 50%;">405</div><div class="t" style="top:237.00px;font-size:7.590000000000001px;line-height:8.478px;color:#111;right:352.65px;transform:scaleX(0.909);transform-origin:right 50%;">5.349</div><div class="t" style="top:237.00px;font-size:7.590000000000001px;line-height:8.478px;color:#111;right:300.20px;transform:scaleX(0.909);transform-origin:right 50%;">17</div><div class="t" style="top:237.00px;font-size:7.590000000000001px;line-height:8.478px;color:#111;right:248.90px;transform:scaleX(0.909);transform-origin:right 50%;">3.539</div><div class="t" style="top:237.00px;font-size:7.590000000000001px;line-height:8.478px;color:#111;right:197.65px;transform:scaleX(0.909);transform-origin:right 50%;">1.810</div><div class="t" style="top:237.00px;font-size:7.590000000000001px;line-height:8.478px;color:#111;right:151.00px;transform:scaleX(0.909);transform-origin:right 50%;">5.349</div><div class="t" style="top:237.00px;font-size:7.590000000000001px;line-height:8.478px;color:#111;right:103.90px;transform:scaleX(0.909);transform-origin:right 50%;">86.198</div><div class="t" style="top:237.00px;font-size:7.590000000000001px;line-height:8.478px;color:#111;right:57.40px;transform:scaleX(0.909);transform-origin:right 50%;">195.801</div><div class="t" style="top:237.00px;font-size:7.590000000000001px;line-height:8.478px;color:#111;right:11.00px;transform:scaleX(0.909);transform-origin:right 50%;">322</div><div class="t" style="top:245.84px;font-size:7.771999999999999px;line-height:8.681px;color:#1a1a1a;left:18.15px;transform:scaleX(0.862);transform-origin:left 50%;">Sicilia</div><div class="t" style="top:246.00px;font-size:7.590000000000001px;line-height:8.478px;color:#111;right:650.40px;transform:scaleX(0.909);transform-origin:right 50%;">101</div><div class="t" style="top:246.00px;font-size:7.590000000000001px;line-height:8.478px;color:#111;right:600.90px;transform:scaleX(0.909);transform-origin:right 50%;">13</div><div class="t" style="top:246.00px;font-size:7.590000000000001px;line-height:8.478px;color:#111;right:550.90px;transform:scaleX(0.909);transform-origin:right 50%;">1.265</div><div class="t" style="top:246.00px;font-size:7.590000000000001px;line-height:8.478px;color:#111;right:501.90px;transform:scaleX(0.909);transform-origin:right 50%;">1.379</div><div class="t" style="top:246.00px;font-size:7.590000000000001px;line-height:8.478px;color:#111;right:450.90px;transform:scaleX(0.909);transform-origin:right 50%;">3.097</div><div class="t" style="top:246.00px;font-size:7.590000000000001px;line-height:8.478px;color:#111;right:400.15px;transform:scaleX(0.909);transform-origin:right 50%;">289</div><div class="t" style="top:246.00px;font-size:7.590000000000001px;line-height:8.478px;color:#111;right:352.65px;transform:scaleX(0.909);transform-origin:right 50%;">4.765</div><div class="t" style="top:246.00px;font-size:7.590000000000001px;line-height:8.478px;color:#111;right:300.20px;transform:scaleX(0.909);transform-origin:right 50%;">49</div><div class="t" style="top:246.00px;font-size:7.590000000000001px;line-height:8.478px;color:#111;right:248.90px;transform:scaleX(0.909);transform-origin:right 50%;">3.349</div><div class="t" style="top:246.00px;font-size:7.590000000000001px;line-height:8.478px;color:#111;right:197.65px;transform:scaleX(0.909);transform-origin:right 50%;">1.416</div><div class="t" style="top:246.00px;font-size:7.590000000000001px;line-height:8.478px;color:#111;right:151.00px;transform:scaleX(0.909);transform-origin:right 50%;">4.765</div><div class="t" style="top:246.00px;font-size:7.590000000000001px;line-height:8.478px;color:#111;right:103.90px;transform:scaleX(0.909);transform-origin:right 50%;">284.332</div><div class="t" style="top:246.00px;font-size:7.590000000000001px;line-height:8.478px;color:#111;right:57.40px;transform:scaleX(0.909);transform-origin:right 50%;">375.134</div><div class="t" style="top:246.00px;font-size:7.590000000000001px;line-height:8.478px;color:#111;right:11.00px;transform:scaleX(0.909);transform-origin:right 50%;">2.333</div><div class="t" style="top:255.84px;font-size:7.771999999999999px;line-height:8.681px;color:#1a1a1a;left:18.15px;transform:scaleX(0.862);transform-origin:left 50%;">Friuli Venezia Giulia</div><div class="t" style="top:256.00px;font-size:7.590000000000001px;line-height:8.478px;color:#111;right:650.40px;transform:scaleX(0.909);transform-origin:right 50%;">16</div><div class="t" style="top:256.00px;font-size:7.590000000000001px;line-height:8.478px;color:#111;right:600.90px;transform:scaleX(0.909);transform-origin:right 50%;">4</div><div class="t" style="top:256.00px;font-size:7.590000000000001px;line-height:8.478px;color:#111;right:550.90px;transform:scaleX(0.909);transform-origin:right 50%;">442</div><div class="t" style="top:256.00px;font-size:7.590000000000001px;line-height:8.478px;color:#111;right:501.90px;transform:scaleX(0.909);transform-origin:right 50%;">462</div><div class="t" style="top:256.00px;font-size:7.590000000000001px;line-height:8.478px;color:#111;right:450.90px;transform:scaleX(0.909);transform-origin:right 50%;">3.123</div><div class="t" style="top:256.00px;font-size:7.590000000000001px;line-height:8.478px;color:#111;right:400.15px;transform:scaleX(0.909);transform-origin:right 50%;">349</div><div class="t" style="top:256.00px;font-size:7.590000000000001px;line-height:8.478px;color:#111;right:352.65px;transform:scaleX(0.909);transform-origin:right 50%;">3.934</div><div class="t" style="top:256.00px;font-size:7.590000000000001px;line-height:8.478px;color:#111;right:300.20px;transform:scaleX(0.909);transform-origin:right 50%;">11</div><div class="t" style="top:256.00px;font-size:7.590000000000001px;line-height:8.478px;color:#111;right:248.90px;transform:scaleX(0.909);transform-origin:right 50%;">3.754</div><div class="t" style="top:256.00px;font-size:7.590000000000001px;line-height:8.478px;color:#111;right:197.65px;transform:scaleX(0.909);transform-origin:right 50%;">180</div><div class="t" style="top:256.00px;font-size:7.590000000000001px;line-height:8.478px;color:#111;right:151.00px;transform:scaleX(0.909);transform-origin:right 50%;">3.934</div><div class="t" style="top:256.00px;font-size:7.590000000000001px;line-height:8.478px;color:#111;right:103.90px;transform:scaleX(0.909);transform-origin:right 50%;">159.063</div><div class="t" style="top:256.00px;font-size:7.590000000000001px;line-height:8.478px;color:#111;right:57.40px;transform:scaleX(0.909);transform-origin:right 50%;">344.376</div><div class="t" style="top:256.00px;font-size:7.590000000000001px;line-height:8.478px;color:#111;right:11.00px;transform:scaleX(0.909);transform-origin:right 50%;">1.700</div><div class="t" style="top:265.84px;font-size:7.771999999999999px;line-height:8.681px;color:#1a1a1a;left:18.15px;transform:scaleX(0.862);transform-origin:left 50%;">Abruzzo</div><div class="t" style="top:266.00px;font-size:7.590000000000001px;line-height:8.478px;color:#111;right:650.40px;transform:scaleX(0.909);transform-origin:right 50%;">31</div><div class="t" style="top:266.00px;font-size:7.590000000000001px;line-height:8.478px;color:#111;right:600.90px;transform:scaleX(0.909);transform-origin:right 50%;">2</div><div class="t" style="top:266.00px;font-size:7.590000000000001px;line-height:8.478px;color:#111;right:550.90px;transform:scaleX(0.909);transform-origin:right 50%;">487</div><div class="t" style="top:266.00px;font-size:7.590000000000001px;line-height:8.478px;color:#111;right:501.90px;transform:scaleX(0.909);transform-origin:right 50%;">520</div><div class="t" style="top:266.00px;font-size:7.590000000000001px;line-height:8.478px;color:#111;right:450.90px;transform:scaleX(0.909);transform-origin:right 50%;">2.914</div><div class="t" style="top:266.00px;font-size:7.590000000000001px;line-height:8.478px;color:#111;right:400.15px;transform:scaleX(0.909);transform-origin:right 50%;">472</div><div class="t" style="top:266.00px;font-size:7.590000000000001px;line-height:8.478px;color:#111;right:352.65px;transform:scaleX(0.909);transform-origin:right 50%;">3.906</div><div class="t" style="top:266.00px;font-size:7.590000000000001px;line-height:8.478px;color:#111;right:300.20px;transform:scaleX(0.909);transform-origin:right 50%;">15</div><div class="t" style="top:266.00px;font-size:7.590000000000001px;line-height:8.478px;color:#111;right:248.90px;transform:scaleX(0.909);transform-origin:right 50%;">3.424</div><div class="t" style="top:266.00px;font-size:7.590000000000001px;line-height:8.478px;color:#111;right:197.65px;transform:scaleX(0.909);transform-origin:right 50%;">482</div><div class="t" style="top:266.00px;font-size:7.590000000000001px;line-height:8.478px;color:#111;right:151.00px;transform:scaleX(0.909);transform-origin:right 50%;">3.906</div><div class="t" style="top:266.00px;font-size:7.590000000000001px;line-height:8.478px;color:#111;right:103.90px;transform:scaleX(0.909);transform-origin:right 50%;">108.107</div><div class="t" style="top:266.00px;font-size:7.590000000000001px;line-height:8.478px;color:#111;right:57.40px;transform:scaleX(0.909);transform-origin:right 50%;">166.611</div><div class="t" style="top:266.00px;font-size:7.590000000000001px;line-height:8.478px;color:#111;right:11.00px;transform:scaleX(0.909);transform-origin:right 50%;">945</div><div class="t" style="top:274.84px;font-size:7.771999999999999px;line-height:8.681px;color:#1a1a1a;left:18.15px;transform:scaleX(0.862);transform-origin:left 50%;">P.A. Bolzano</div><div class="t" style="top:275.00px;font-size:7.590000000000001px;line-height:8.478px;color:#111;right:650.40px;transform:scaleX(0.909);transform-origin:right 50%;">8</div><div class="t" style="top:275.00px;font-size:7.590000000000001px;line-height:8.478px;color:#111;right:600.90px;transform:scaleX(0.909);transform-origin:right 50%;">2</div><div class="t" style="top:275.00px;font-size:7.590000000000001px;line-height:8.478px;color:#111;right:550.90px;transform:scaleX(0.909);transform-origin:right 50%;">205</div><div class="t" style="top:275.00px;font-size:7.590000000000001px;line-height:8.478px;color:#111;right:501.90px;transform:scaleX(0.909);transform-origin:right 50%;">215</div><div class="t" style="top:275.00px;font-size:7.590000000000001px;line-height:8.478px;color:#111;right:450.90px;transform:scaleX(0.909);transform-origin:right 50%;">2.496</div><div class="t" style="top:275.00px;font-size:7.590000000000001px;line-height:8.478px;color:#111;right:400.15px;transform:scaleX(0.909);transform-origin:right 50%;">292</div><div class="t" style="top:275.00px;font-size:7.590000000000001px;line-height:8.478px;color:#111;right:352.65px;transform:scaleX(0.909);transform-origin:right 50%;">3.003</div><div class="t" style="top:275.00px;font-size:7.590000000000001px;line-height:8.478px;color:#111;right:300.20px;transform:scaleX(0.909);transform-origin:right 50%;">0</div><div class="t" style="top:275.00px;font-size:7.590000000000001px;line-height:8.478px;color:#111;right:248.90px;transform:scaleX(0.909);transform-origin:right 50%;">3.003</div><div class="t" style="top:275.00px;font-size:7.590000000000001px;line-height:8.478px;color:#111;right:197.65px;transform:scaleX(0.909);transform-origin:right 50%;">0</div><div class="t" style="top:275.00px;font-size:7.590000000000001px;line-height:8.478px;color:#111;right:151.00px;transform:scaleX(0.909);transform-origin:right 50%;">3.003</div><div class="t" style="top:275.00px;font-size:7.590000000000001px;line-height:8.478px;color:#111;right:103.90px;transform:scaleX(0.909);transform-origin:right 50%;">76.265</div><div class="t" style="top:275.00px;font-size:7.590000000000001px;line-height:8.478px;color:#111;right:57.40px;transform:scaleX(0.909);transform-origin:right 50%;">144.481</div><div class="t" style="top:275.00px;font-size:7.590000000000001px;line-height:8.478px;color:#111;right:11.00px;transform:scaleX(0.909);transform-origin:right 50%;">800</div><div class="t" style="top:284.84px;font-size:7.771999999999999px;line-height:8.681px;color:#1a1a1a;left:18.15px;transform:scaleX(0.862);transform-origin:left 50%;">Sardegna</div><div class="t" style="top:285.00px;font-size:7.590000000000001px;line-height:8.478px;color:#111;right:650.40px;transform:scaleX(0.909);transform-origin:right 50%;">46</div><div class="t" style="top:285.00px;font-size:7.590000000000001px;line-height:8.478px;color:#111;right:600.90px;transform:scaleX(0.909);transform-origin:right 50%;">10</div><div class="t" style="top:285.00px;font-size:7.590000000000001px;line-height:8.478px;color:#111;right:550.90px;transform:scaleX(0.909);transform-origin:right 50%;">1.086</div><div class="t" style="top:285.00px;font-size:7.590000000000001px;line-height:8.478px;color:#111;right:501.90px;transform:scaleX(0.909);transform-origin:right 50%;">1.142</div><div class="t" style="top:285.00px;font-size:7.590000000000001px;line-height:8.478px;color:#111;right:450.90px;transform:scaleX(0.909);transform-origin:right 50%;">1.286</div><div class="t" style="top:285.00px;font-size:7.590000000000001px;line-height:8.478px;color:#111;right:400.15px;transform:scaleX(0.909);transform-origin:right 50%;">136</div><div class="t" style="top:285.00px;font-size:7.590000000000001px;line-height:8.478px;color:#111;right:352.65px;transform:scaleX(0.909);transform-origin:right 50%;">2.564</div><div class="t" style="top:285.00px;font-size:7.590000000000001px;line-height:8.478px;color:#111;right:300.20px;transform:scaleX(0.909);transform-origin:right 50%;">59</div><div class="t" style="top:285.00px;font-size:7.590000000000001px;line-height:8.478px;color:#111;right:248.90px;transform:scaleX(0.909);transform-origin:right 50%;">1.628</div><div class="t" style="top:285.00px;font-size:7.590000000000001px;line-height:8.478px;color:#111;right:197.65px;transform:scaleX(0.909);transform-origin:right 50%;">936</div><div class="t" style="top:285.00px;font-size:7.590000000000001px;line-height:8.478px;color:#111;right:151.00px;transform:scaleX(0.909);transform-origin:right 50%;">2.564</div><div class="t" style="top:285.00px;font-size:7.590000000000001px;line-height:8.478px;color:#111;right:103.90px;transform:scaleX(0.909);transform-origin:right 50%;">126.031</div><div class="t" style="top:285.00px;font-size:7.590000000000001px;line-height:8.478px;color:#111;right:57.40px;transform:scaleX(0.909);transform-origin:right 50%;">148.018</div><div class="t" style="top:285.00px;font-size:7.590000000000001px;line-height:8.478px;color:#111;right:11.00px;transform:scaleX(0.909);transform-origin:right 50%;">1.155</div><div class="t" style="top:293.84px;font-size:7.771999999999999px;line-height:8.681px;color:#1a1a1a;left:18.15px;transform:scaleX(0.862);transform-origin:left 50%;">Umbria</div><div class="t" style="top:294.00px;font-size:7.590000000000001px;line-height:8.478px;color:#111;right:650.40px;transform:scaleX(0.909);transform-origin:right 50%;">15</div><div class="t" style="top:294.00px;font-size:7.590000000000001px;line-height:8.478px;color:#111;right:600.90px;transform:scaleX(0.909);transform-origin:right 50%;">2</div><div class="t" style="top:294.00px;font-size:7.590000000000001px;line-height:8.478px;color:#111;right:550.90px;transform:scaleX(0.909);transform-origin:right 50%;">349</div><div class="t" style="top:294.00px;font-size:7.590000000000001px;line-height:8.478px;color:#111;right:501.90px;transform:scaleX(0.909);transform-origin:right 50%;">366</div><div class="t" style="top:294.00px;font-size:7.590000000000001px;line-height:8.478px;color:#111;right:450.90px;transform:scaleX(0.909);transform-origin:right 50%;">1.481</div><div class="t" style="top:294.00px;font-size:7.590000000000001px;line-height:8.478px;color:#111;right:400.15px;transform:scaleX(0.909);transform-origin:right 50%;">81</div><div class="t" style="top:294.00px;font-size:7.590000000000001px;line-height:8.478px;color:#111;right:352.65px;transform:scaleX(0.909);transform-origin:right 50%;">1.928</div><div class="t" style="top:294.00px;font-size:7.590000000000001px;line-height:8.478px;color:#111;right:300.20px;transform:scaleX(0.909);transform-origin:right 50%;">13</div><div class="t" style="top:294.00px;font-size:7.590000000000001px;line-height:8.478px;color:#111;right:248.90px;transform:scaleX(0.909);transform-origin:right 50%;">1.537</div><div class="t" style="top:294.00px;font-size:7.590000000000001px;line-height:8.478px;color:#111;right:197.65px;transform:scaleX(0.909);transform-origin:right 50%;">391</div><div class="t" style="top:294.00px;font-size:7.590000000000001px;line-height:8.478px;color:#111;right:151.00px;transform:scaleX(0.909);transform-origin:right 50%;">1.928</div><div class="t" style="top:294.00px;font-size:7.590000000000001px;line-height:8.478px;color:#111;right:103.90px;transform:scaleX(0.909);transform-origin:right 50%;">101.836</div><div class="t" style="top:294.00px;font-size:7.590000000000001px;line-height:8.478px;color:#111;right:57.40px;transform:scaleX(0.909);transform-origin:right 50%;">165.993</div><div class="t" style="top:294.00px;font-size:7.590000000000001px;line-height:8.478px;color:#111;right:11.00px;transform:scaleX(0.909);transform-origin:right 50%;">535</div><div class="t" style="top:303.84px;font-size:7.771999999999999px;line-height:8.681px;color:#1a1a1a;left:18.15px;transform:scaleX(0.862);transform-origin:left 50%;">Calabria</div><div class="t" style="top:304.00px;font-size:7.590000000000001px;line-height:8.478px;color:#111;right:650.40px;transform:scaleX(0.909);transform-origin:right 50%;">29</div><div class="t" style="top:304.00px;font-size:7.590000000000001px;line-height:8.478px;color:#111;right:600.90px;transform:scaleX(0.909);transform-origin:right 50%;">1</div><div class="t" style="top:304.00px;font-size:7.590000000000001px;line-height:8.478px;color:#111;right:550.90px;transform:scaleX(0.909);transform-origin:right 50%;">325</div><div class="t" style="top:304.00px;font-size:7.590000000000001px;line-height:8.478px;color:#111;right:501.90px;transform:scaleX(0.909);transform-origin:right 50%;">355</div><div class="t" style="top:304.00px;font-size:7.590000000000001px;line-height:8.478px;color:#111;right:450.90px;transform:scaleX(0.909);transform-origin:right 50%;">1.187</div><div class="t" style="top:304.00px;font-size:7.590000000000001px;line-height:8.478px;color:#111;right:400.15px;transform:scaleX(0.909);transform-origin:right 50%;">98</div><div class="t" style="top:304.00px;font-size:7.590000000000001px;line-height:8.478px;color:#111;right:352.65px;transform:scaleX(0.909);transform-origin:right 50%;">1.640</div><div class="t" style="top:304.00px;font-size:7.590000000000001px;line-height:8.478px;color:#111;right:300.20px;transform:scaleX(0.909);transform-origin:right 50%;">17</div><div class="t" style="top:304.00px;font-size:7.590000000000001px;line-height:8.478px;color:#111;right:248.90px;transform:scaleX(0.909);transform-origin:right 50%;">1.159</div><div class="t" style="top:304.00px;font-size:7.590000000000001px;line-height:8.478px;color:#111;right:197.65px;transform:scaleX(0.909);transform-origin:right 50%;">481</div><div class="t" style="top:304.00px;font-size:7.590000000000001px;line-height:8.478px;color:#111;right:151.00px;transform:scaleX(0.909);transform-origin:right 50%;">1.640</div><div class="t" style="top:304.00px;font-size:7.590000000000001px;line-height:8.478px;color:#111;right:103.90px;transform:scaleX(0.909);transform-origin:right 50%;">164.464</div><div class="t" style="top:304.00px;font-size:7.590000000000001px;line-height:8.478px;color:#111;right:57.40px;transform:scaleX(0.909);transform-origin:right 50%;">166.570</div><div class="t" style="top:304.00px;font-size:7.590000000000001px;line-height:8.478px;color:#111;right:11.00px;transform:scaleX(0.909);transform-origin:right 50%;">620</div><div class="t" style="top:313.84px;font-size:7.771999999999999px;line-height:8.681px;color:#1a1a1a;left:18.15px;transform:scaleX(0.862);transform-origin:left 50%;">Valle d'Aosta</div><div class="t" style="top:314.00px;font-size:7.590000000000001px;line-height:8.478px;color:#111;right:650.40px;transform:scaleX(0.909);transform-origin:right 50%;">1</div><div class="t" style="top:314.00px;font-size:7.590000000000001px;line-height:8.478px;color:#111;right:600.90px;transform:scaleX(0.909);transform-origin:right 50%;">0</div><div class="t" style="top:314.00px;font-size:7.590000000000001px;line-height:8.478px;color:#111;right:550.90px;transform:scaleX(0.909);transform-origin:right 50%;">33</div><div class="t" style="top:314.00px;font-size:7.590000000000001px;line-height:8.478px;color:#111;right:501.90px;transform:scaleX(0.909);transform-origin:right 50%;">34</div><div class="t" style="top:314.00px;font-size:7.590000000000001px;line-height:8.478px;color:#111;right:450.90px;transform:scaleX(0.909);transform-origin:right 50%;">1.069</div><div class="t" style="top:314.00px;font-size:7.590000000000001px;line-height:8.478px;color:#111;right:400.15px;transform:scaleX(0.909);transform-origin:right 50%;">146</div><div class="t" style="top:314.00px;font-size:7.590000000000001px;line-height:8.478px;color:#111;right:352.65px;transform:scaleX(0.909);transform-origin:right 50%;">1.249</div><div class="t" style="top:314.00px;font-size:7.590000000000001px;line-height:8.478px;color:#111;right:300.20px;transform:scaleX(0.909);transform-origin:right 50%;">0</div><div class="t" style="top:314.00px;font-size:7.590000000000001px;line-height:8.478px;color:#111;right:248.90px;transform:scaleX(0.909);transform-origin:right 50%;">1.119</div><div class="t" style="top:314.00px;font-size:7.590000000000001px;line-height:8.478px;color:#111;right:197.65px;transform:scaleX(0.909);transform-origin:right 50%;">130</div><div class="t" style="top:314.00px;font-size:7.590000000000001px;line-height:8.478px;color:#111;right:151.00px;transform:scaleX(0.909);transform-origin:right 50%;">1.249</div><div class="t" style="top:314.00px;font-size:7.590000000000001px;line-height:8.478px;color:#111;right:103.90px;transform:scaleX(0.909);transform-origin:right 50%;">18.111</div><div class="t" style="top:314.00px;font-size:7.590000000000001px;line-height:8.478px;color:#111;right:57.40px;transform:scaleX(0.909);transform-origin:right 50%;">25.724</div><div class="t" style="top:314.00px;font-size:7.590000000000001px;line-height:8.478px;color:#111;right:11.00px;transform:scaleX(0.909);transform-origin:right 50%;">146</div><div class="t" style="top:322.84px;font-size:7.771999999999999px;line-height:8.681px;color:#1a1a1a;left:18.15px;transform:scaleX(0.862);transform-origin:left 50%;">Basilicata</div><div class="t" style="top:323.00px;font-size:7.590000000000001px;line-height:8.478px;color:#111;right:650.40px;transform:scaleX(0.909);transform-origin:right 50%;">4</div><div class="t" style="top:323.00px;font-size:7.590000000000001px;line-height:8.478px;color:#111;right:600.90px;transform:scaleX(0.909);transform-origin:right 50%;">1</div><div class="t" style="top:323.00px;font-size:7.590000000000001px;line-height:8.478px;color:#111;right:550.90px;transform:scaleX(0.909);transform-origin:right 50%;">114</div><div class="t" style="top:323.00px;font-size:7.590000000000001px;line-height:8.478px;color:#111;right:501.90px;transform:scaleX(0.909);transform-origin:right 50%;">119</div><div class="t" style="top:323.00px;font-size:7.590000000000001px;line-height:8.478px;color:#111;right:450.90px;transform:scaleX(0.909);transform-origin:right 50%;">418</div><div class="t" style="top:323.00px;font-size:7.590000000000001px;line-height:8.478px;color:#111;right:400.15px;transform:scaleX(0.909);transform-origin:right 50%;">28</div><div class="t" style="top:323.00px;font-size:7.590000000000001px;line-height:8.478px;color:#111;right:352.65px;transform:scaleX(0.909);transform-origin:right 50%;">565</div><div class="t" style="top:323.00px;font-size:7.590000000000001px;line-height:8.478px;color:#111;right:300.20px;transform:scaleX(0.909);transform-origin:right 50%;">1</div><div class="t" style="top:323.00px;font-size:7.590000000000001px;line-height:8.478px;color:#111;right:248.90px;transform:scaleX(0.909);transform-origin:right 50%;">411</div><div class="t" style="top:323.00px;font-size:7.590000000000001px;line-height:8.478px;color:#111;right:197.65px;transform:scaleX(0.909);transform-origin:right 50%;">154</div><div class="t" style="top:323.00px;font-size:7.590000000000001px;line-height:8.478px;color:#111;right:151.00px;transform:scaleX(0.909);transform-origin:right 50%;">565</div><div class="t" style="top:323.00px;font-size:7.590000000000001px;line-height:8.478px;color:#111;right:103.90px;transform:scaleX(0.909);transform-origin:right 50%;">59.060</div><div class="t" style="top:323.00px;font-size:7.590000000000001px;line-height:8.478px;color:#111;right:57.40px;transform:scaleX(0.909);transform-origin:right 50%;">59.870</div><div class="t" style="top:323.00px;font-size:7.590000000000001px;line-height:8.478px;color:#111;right:11.00px;transform:scaleX(0.909);transform-origin:right 50%;">72</div><div class="t" style="top:332.84px;font-size:7.771999999999999px;line-height:8.681px;color:#1a1a1a;left:18.15px;transform:scaleX(0.862);transform-origin:left 50%;">Molise</div><div class="t" style="top:333.00px;font-size:7.590000000000001px;line-height:8.478px;color:#111;right:650.40px;transform:scaleX(0.909);transform-origin:right 50%;">3</div><div class="t" style="top:333.00px;font-size:7.590000000000001px;line-height:8.478px;color:#111;right:600.90px;transform:scaleX(0.909);transform-origin:right 50%;">0</div><div class="t" style="top:333.00px;font-size:7.590000000000001px;line-height:8.478px;color:#111;right:550.90px;transform:scaleX(0.909);transform-origin:right 50%;">83</div><div class="t" style="top:333.00px;font-size:7.590000000000001px;line-height:8.478px;color:#111;right:501.90px;transform:scaleX(0.909);transform-origin:right 50%;">86</div><div class="t" style="top:333.00px;font-size:7.590000000000001px;line-height:8.478px;color:#111;right:450.90px;transform:scaleX(0.909);transform-origin:right 50%;">436</div><div class="t" style="top:333.00px;font-size:7.590000000000001px;line-height:8.478px;color:#111;right:400.15px;transform:scaleX(0.909);transform-origin:right 50%;">23</div><div class="t" style="top:333.00px;font-size:7.590000000000001px;line-height:8.478px;color:#111;right:352.65px;transform:scaleX(0.909);transform-origin:right 50%;">545</div><div class="t" style="top:333.00px;font-size:7.590000000000001px;line-height:8.478px;color:#111;right:300.20px;transform:scaleX(0.909);transform-origin:right 50%;">9</div><div class="t" style="top:333.00px;font-size:7.590000000000001px;line-height:8.478px;color:#111;right:248.90px;transform:scaleX(0.909);transform-origin:right 50%;">514</div><div class="t" style="top:333.00px;font-size:7.590000000000001px;line-height:8.478px;color:#111;right:197.65px;transform:scaleX(0.909);transform-origin:right 50%;">31</div><div class="t" style="top:333.00px;font-size:7.590000000000001px;line-height:8.478px;color:#111;right:151.00px;transform:scaleX(0.909);transform-origin:right 50%;">545</div><div class="t" style="top:333.00px;font-size:7.590000000000001px;line-height:8.478px;color:#111;right:103.90px;transform:scaleX(0.909);transform-origin:right 50%;">34.109</div><div class="t" style="top:333.00px;font-size:7.590000000000001px;line-height:8.478px;color:#111;right:57.40px;transform:scaleX(0.909);transform-origin:right 50%;">35.376</div><div class="t" style="top:333.00px;font-size:7.590000000000001px;line-height:8.478px;color:#111;right:11.00px;transform:scaleX(0.909);transform-origin:right 50%;">177</div><div class="t" style="top:344.67px;font-size:6.655px;line-height:7.434px;font-weight:bold;color:#111;left:-441.27px;width:1000px;text-align:center;transform:scaleX(0.909);transform-origin:center 50%;-webkit-text-stroke:0.05px currentColor;">TOTALE</div><div class="t" style="top:344.93px;font-size:7.590000000000001px;line-height:8.478px;font-weight:bold;color:#111;right:651.20px;transform:scaleX(0.909);transform-origin:right 50%;">1.719</div><div class="t" style="top:344.93px;font-size:7.590000000000001px;line-height:8.478px;font-weight:bold;color:#111;right:601.70px;transform:scaleX(0.909);transform-origin:right 50%;">142</div><div class="t" style="top:344.93px;font-size:7.590000000000001px;line-height:8.478px;font-weight:bold;color:#111;right:551.70px;transform:scaleX(0.909);transform-origin:right 50%;">31.132</div><div class="t" style="top:344.93px;font-size:7.590000000000001px;line-height:8.478px;font-weight:bold;color:#111;right:502.70px;transform:scaleX(0.909);transform-origin:right 50%;">32.993</div><div class="t" style="top:344.93px;font-size:7.590000000000001px;line-height:8.478px;font-weight:bold;color:#0a3a1a;right:451.70px;transform:scaleX(0.909);transform-origin:right 50%;">210.238</div><div class="t" style="top:344.93px;font-size:7.590000000000001px;line-height:8.478px;font-weight:bold;color:#500000;right:400.95px;transform:scaleX(0.909);transform-origin:right 50%;">35.553</div><div class="t" style="top:344.93px;font-size:7.590000000000001px;line-height:8.478px;font-weight:bold;color:#111;right:353.45px;transform:scaleX(0.909);transform-origin:right 50%;">278.784</div><div class="t" style="top:344.93px;font-size:7.590000000000001px;line-height:8.478px;font-weight:bold;color:#111;right:301.00px;transform:scaleX(0.909);transform-origin:right 50%;">1.108</div><div class="t" style="top:344.93px;font-size:7.590000000000001px;line-height:8.478px;font-weight:bold;color:#111;right:249.70px;transform:scaleX(0.909);transform-origin:right 50%;">233.115</div><div class="t" style="top:344.93px;font-size:7.590000000000001px;line-height:8.478px;font-weight:bold;color:#111;right:198.45px;transform:scaleX(0.909);transform-origin:right 50%;">45.669</div><div class="t" style="top:344.93px;font-size:7.590000000000001px;line-height:8.478px;font-weight:bold;color:#111;right:151.80px;transform:scaleX(0.909);transform-origin:right 50%;">278.784</div><div class="t" style="top:344.93px;font-size:7.590000000000001px;line-height:8.478px;font-weight:bold;color:#111;right:104.70px;transform:scaleX(0.909);transform-origin:right 50%;">5.578.731</div><div class="t" style="top:344.93px;font-size:7.590000000000001px;line-height:8.478px;font-weight:bold;color:#111;right:58.20px;transform:scaleX(0.909);transform-origin:right 50%;">9.271.810</div><div class="t" style="top:344.93px;font-size:7.590000000000001px;line-height:8.478px;font-weight:bold;color:#111;right:11.80px;transform:scaleX(0.909);transform-origin:right 50%;">52.553</div><div class="t" style="top:375.52px;font-size:7.492800000000001px;line-height:8.369px;color:#1a1a1a;left:18.30px;transform:scaleX(0.955);transform-origin:left 50%;-webkit-text-stroke:0.35px currentColor;">Note:</div><div class="t" style="top:391.68px;font-size:6.095px;line-height:6.808px;color:#333;left:18.30px;transform:scaleX(0.881);transform-origin:left 50%;-webkit-text-stroke:0.1px currentColor;">La Regione Sicilia comunica che dei 49 nuovi positivi di oggi, 15 sono ospiti dell'hotspot di Lampedusa;</div><div class="t" style="top:398.18px;font-size:6.095px;line-height:6.808px;color:#333;left:18.30px;transform:scaleX(0.877);transform-origin:left 50%;-webkit-text-stroke:0.1px currentColor;">La Regione Campania comunica che l'incremento odierno dei casi positivi è 218, sebbene la differenza tra il totale dei casi positivi di oggi e quello di ieri è 260 poiché 42 casi positivi sono da attribuire ai giorni scorsi (residuo screening);</div><div class="t" style="top:404.68px;font-size:6.095px;line-height:6.808px;color:#333;left:18.30px;transform:scaleX(0.868);transform-origin:left 50%;-webkit-text-stroke:0.1px currentColor;">La Regione Calabria comunica che dei 17 nuovi positivi di oggi, 3 sono migranti;</div></div>
</div></body></html>
